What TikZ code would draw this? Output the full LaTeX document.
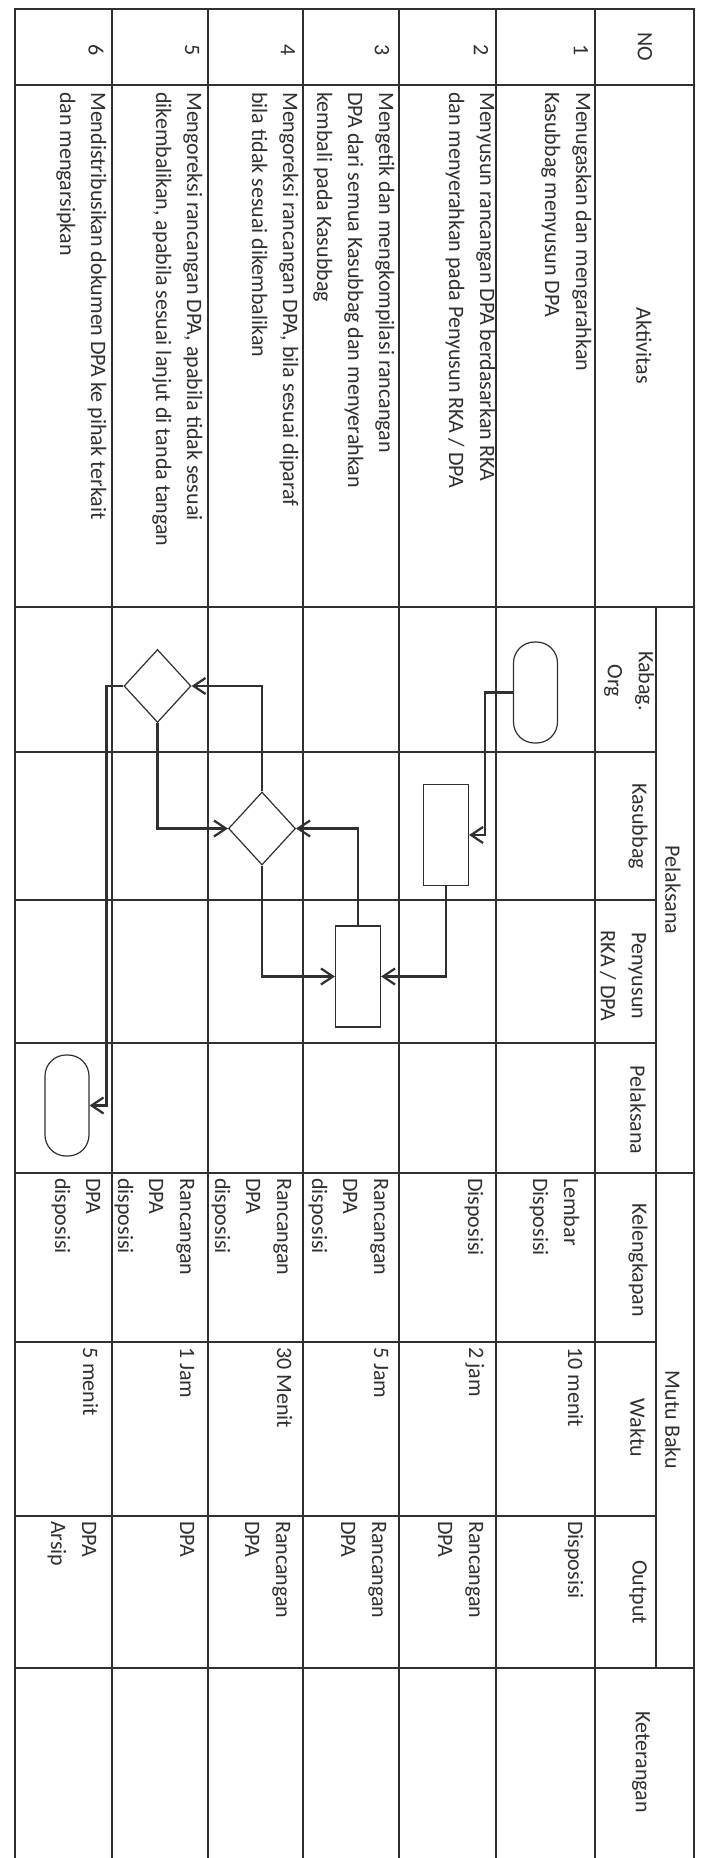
\documentclass[tikz,border=0pt]{standalone}
\usepackage{fontspec}
\setmainfont{Carlito}
\usetikzlibrary{shapes.geometric, arrows.meta}

\definecolor{ink}{HTML}{303030}

\begin{document}
\begin{tikzpicture}[
  x=1pt, y=-1pt,
  every node/.style = {font=\fontsize{22}{31}\selectfont, text=ink},
  grid/.style = {
    draw=ink,
    line width=1.5pt
  },
  cell/.style = {
    rotate=-90,
    anchor=north west,
    align=left,
    inner sep=0pt
  },
  head/.style = {
    rotate=-90,
    align=center,
    inner sep=0pt
  },
  terminal/.style = {
    draw=ink,
    line width=1.2pt,
    rounded corners=21pt,
    minimum width=44pt,
    minimum height=101pt,
    inner sep=0pt
  },
  process/.style = {
    draw=ink,
    line width=1.2pt,
    minimum width=45pt,
    minimum height=101pt,
    inner sep=0pt
  },
  decision/.style = {
    diamond,
    draw=ink,
    line width=1.2pt,
    minimum width=67pt,
    minimum height=73pt,
    inner sep=0pt
  },
  arrow/.style = {
    draw=ink,
    line width=2.2pt,
    -{Straight Barb[length=12pt, width=16pt]}
  }
]

\useasboundingbox (0,0) rectangle (701,1858);
\fill[white] (0,0) rectangle (701,1858);

% frame and row lines
\draw[grid] (694,1858) -- (694,9) -- (15,9) -- (15,1858);
\draw[grid] (112,9) -- (112,1858);
\draw[grid] (208,9) -- (208,1858);
\draw[grid] (303,9) -- (303,1858);
\draw[grid] (399,9) -- (399,1858);
\draw[grid] (496,9) -- (496,1858);
\draw[grid] (595,9) -- (595,1858);
\draw[grid] (656,607) -- (656,1668);

% column lines
\draw[grid] (15,85) -- (694,85);
\draw[grid] (15,607) -- (694,607);
\draw[grid] (15,752) -- (656,752);
\draw[grid] (15,900) -- (656,900);
\draw[grid] (15,1043) -- (656,1043);
\draw[grid] (15,1173) -- (694,1173);
\draw[grid] (15,1342) -- (656,1342);
\draw[grid] (15,1516) -- (656,1516);
\draw[grid] (15,1668) -- (694,1668);

% header
\node[head] (hno) at (645,47) {NO};
\node[head] (hakt) at (644,346) {Aktivitas};
\node[head] (hpel) at (673,890) {Pelaksana};
\node[head] (hkabag) at (629,681) {Kabag.\\Org};
\node[head] (hkasub) at (638,826) {Kasubbag};
\node[head] (hpeny) at (623,976) {Penyusun\\RKA / DPA};
\node[head] (hpelak) at (638,1110) {Pelaksana};
\node[head] (hmutu) at (673,1420) {Mutu Baku};
\node[head] (hkel) at (638,1260) {Kelengkapan};
\node[head] (hwkt) at (638,1428) {Waktu};
\node[head] (hout) at (638,1592) {Output};
\node[head] (hket) at (641,1762) {Keterangan};

% nomor
\node[head] (no1) at (581,50) {1};
\node[head] (no2) at (481,50) {2};
\node[head] (no3) at (382,50) {3};
\node[head] (no4) at (288,50) {4};
\node[head] (no5) at (192,50) {5};
\node[head] (no6) at (96,50) {6};

% aktivitas
\node[cell] (akt1) at (598,92) {\strut Menugaskan dan mengarahkan\\Kasubbag menyusun DPA};
\node[cell] (akt2) at (502,92) {\strut Menyusun rancangan DPA berdasarkan RKA\\dan menyerahkan pada Penyusun RKA / DPA};
\node[cell] (akt3) at (401,92) {\strut Mengetik dan mengkompilasi rancangan\\DPA dari semua Kasubbag dan menyerahkan\\kembali pada Kasubbag};
\node[cell] (akt4) at (305,92) {\strut Mengoreksi rancangan DPA, bila sesuai diparaf\\bila tidak sesuai dikembalikan};
\node[cell] (akt5) at (209,92) {\strut Mengoreksi rancangan DPA, apabila tidak sesuai\\dikembalikan, apabila sesuai lanjut di tanda tangan};
\node[cell] (akt6) at (113,92) {\strut Mendistribusikan dokumen DPA ke pihak terkait\\dan mengarsipkan};

% kelengkapan
\node[cell] (kel1) at (586,1178) {\strut Lembar\\Disposisi};
\node[cell] (kel2) at (490,1178) {\strut Disposisi};
\node[cell] (kel3) at (396,1178) {\strut Rancangan\\DPA\\disposisi};
\node[cell] (kel4) at (299,1178) {\strut Rancangan\\DPA\\disposisi};
\node[cell] (kel5) at (202,1178) {\strut Rancangan\\DPA\\disposisi};
\node[cell] (kel6) at (108,1178) {\strut DPA\\disposisi};

% waktu
\node[cell] (wkt1) at (590,1347) {\strut 10 menit};
\node[cell] (wkt2) at (491,1347) {\strut 2 jam};
\node[cell] (wkt3) at (396,1347) {\strut 5 Jam};
\node[cell] (wkt4) at (299,1347) {\strut 30 Menit};
\node[cell] (wkt5) at (202,1347) {\strut 1 Jam};
\node[cell] (wkt6) at (105,1347) {\strut 5 menit};

% output
\node[cell] (out1) at (590,1521) {\strut Disposisi};
\node[cell] (out2) at (491,1521) {\strut Rancangan\\DPA};
\node[cell] (out3) at (394,1521) {\strut Rancangan\\DPA};
\node[cell] (out4) at (298,1521) {\strut Rancangan\\DPA};
\node[cell] (out5) at (202,1521) {\strut DPA};
\node[cell] (out6) at (104,1521) {\strut DPA\\Arsip};

% alur
\node[terminal] (mulai) at (535.5,692.5) {};
\node[process] (susun) at (446,835) {};
\node[process] (ketik) at (358,976.5) {};
\node[decision] (koreksi1) at (262,828.5) {};
\node[decision] (koreksi2) at (157.5,686) {};
\node[terminal] (selesai) at (67,1105.5) {};

\draw[arrow] (mulai.west) -- ++(-28,0) |- (susun.east);
\draw[arrow] (susun.south) |- (ketik.east);
\draw[arrow] (ketik.north) |- (koreksi1.east);
\draw[arrow] (koreksi1.south) |- (ketik.west);
\draw[arrow] (koreksi1.north) |- (koreksi2.east);
\draw[arrow] (koreksi2.south) |- (koreksi1.west);
\draw[arrow] (koreksi2.west) -- ++(-17,0) |- (selesai.east);

\end{tikzpicture}
\end{document}
